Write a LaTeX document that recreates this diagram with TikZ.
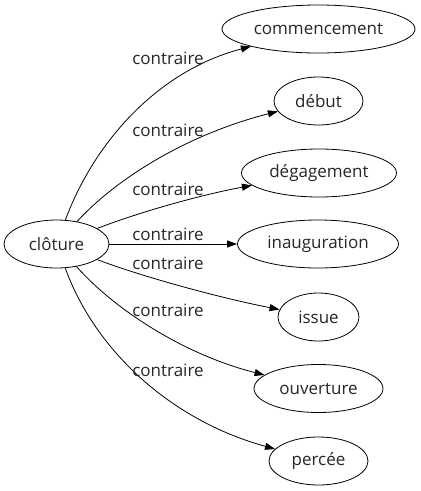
\documentclass[tikz,border=0pt]{standalone}
\usepackage{fontspec}
\setmainfont{Open Sans}
\usetikzlibrary{shapes.geometric,arrows.meta}
\begin{document}
\begin{tikzpicture}[x=1pt,y=-1pt,
  ell/.style={draw, ellipse, inner sep=0pt, line width=0.8pt, font=\fontsize{17}{19}\selectfont, text=black!85},
  lab/.style={font=\fontsize{17}{19}\selectfont, text=black!85},
  edge/.style={line width=0.8pt, -{Triangle[length=10pt,width=7pt]}}]
\useasboundingbox (0,0) rectangle (421,491);
\node[ell, minimum width=105pt, minimum height=48pt] (cl) at (56.5,244) {clôture};
\node[ell, minimum width=193pt, minimum height=48pt] (com) at (318.5,29) {commencement};
\node[ell, minimum width=89pt, minimum height=48pt] (deb) at (318.5,101) {début};
\node[ell, minimum width=155pt, minimum height=48pt] (deg) at (319,173) {dégagement};
\node[ell, minimum width=161pt, minimum height=48pt] (ina) at (318,244) {inauguration};
\node[ell, minimum width=81pt, minimum height=48pt] (iss) at (318.5,317) {issue};
\node[ell, minimum width=129pt, minimum height=48pt] (ouv) at (318.5,388.5) {ouverture};
\node[ell, minimum width=99pt, minimum height=48pt] (per) at (318.5,461) {percée};
\draw[edge] (cl) .. controls (95,140) and (160,70) .. (com);
\draw[edge] (cl) .. controls (115,180) and (185,135) .. (deb);
\draw[edge] (cl) .. controls (140,212) and (200,195) .. (deg);
\draw[edge] (cl) -- (ina);
\draw[edge] (cl) .. controls (140,276) and (220,298) .. (iss);
\draw[edge] (cl) .. controls (115,310) and (185,355) .. (ouv);
\draw[edge] (cl) .. controls (95,350) and (170,420) .. (per);
\node[lab] (l1) at (168,58) {contraire};
\node[lab] (l2) at (168,130) {contraire};
\node[lab] (l3) at (168,189) {contraire};
\node[lab] (l4) at (168,234) {contraire};
\node[lab] (l5) at (168,263) {contraire};
\node[lab] (l6) at (168,310) {contraire};
\node[lab] (l7) at (168,370) {contraire};
\end{tikzpicture}
\end{document}
